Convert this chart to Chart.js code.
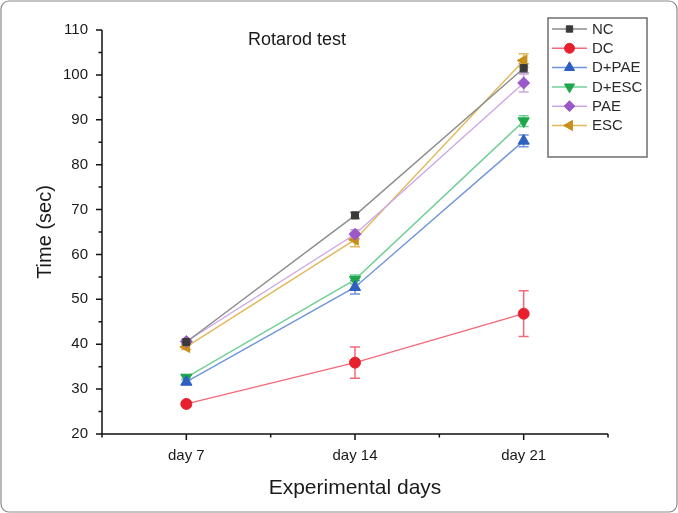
<!DOCTYPE html>
<html>
<head>
<meta charset="utf-8">
<script src="https://cdn.jsdelivr.net/npm/chart.js@4.4.1/dist/chart.umd.min.js"></script>
<style>
html,body{margin:0;padding:0;background:#fff;}
#wrap{position:relative;width:678px;height:513px;}
</style>
</head>
<body>
<div id="wrap"><canvas id="c" width="678" height="513"></canvas></div>
<script>
const categories = ['day 7', 'day 14', 'day 21'];
const seriesNames = ['NC', 'DC', 'D+PAE', 'D+ESC', 'PAE', 'ESC'];
const NC     = [40.5, 68.7, 101.5];
const NC_err = [0.5, 0.7, 1.0];
const DC     = [26.7, 35.9, 46.8];
const DC_err = [0.5, 3.5, 5.1];
const DPAE     = [31.6, 52.7, 85.3];
const DPAE_err = [0.6, 1.5, 1.3];
const DESC     = [32.6, 54.4, 89.7];
const DESC_err = [0.5, 1.0, 1.2];
const PAE     = [40.6, 64.5, 98.2];
const PAE_err = [0.5, 1.0, 2.0];
const ESC     = [39.4, 63.3, 103.2];
const ESC_err = [0.6, 1.6, 1.5];
const yTicks = [20, 30, 40, 50, 60, 70, 80, 90, 100, 110];

const styles = [
  {line:'#8c8c8c', mark:'#3a3a3a', ps:'rect', rot:0, r:5},
  {line:'#f26a78', mark:'#e8202e', ps:'circle', rot:0, r:5.5},
  {line:'#6f95dc', mark:'#2f5fc0', ps:'triangle', rot:0, r:6.5},
  {line:'#72cf98', mark:'#1fa64d', ps:'triangle', rot:180, r:6.5},
  {line:'#cda6e4', mark:'#9b59c8', ps:'rectRot', rot:0, r:6},
  {line:'#e2b85a', mark:'#c8901a', ps:'triangle', rot:-90, r:6.5}
];
const values = [NC, DC, DPAE, DESC, PAE, ESC];
const errors = [NC_err, DC_err, DPAE_err, DESC_err, PAE_err, ESC_err];

const datasets = values.map((v, i) => ({
  label: seriesNames[i],
  data: v,
  errs: errors[i],
  borderColor: styles[i].line,
  backgroundColor: styles[i].mark,
  pointBackgroundColor: styles[i].mark,
  pointBorderColor: styles[i].mark,
  pointBorderWidth: 1,
  pointStyle: styles[i].ps,
  pointRotation: styles[i].rot,
  pointRadius: styles[i].r,
  borderWidth: 1.4,
  tension: 0,
  fill: false
}));

const AXW = 102, AXH = 79;
const FONT = '"Liberation Sans", Arial, sans-serif';

const deco = {
  id: 'deco',
  beforeDatasetsDraw(chart) {
    const ctx = chart.ctx;
    const x = chart.scales.x, y = chart.scales.y;
    chart.data.datasets.forEach((ds, i) => {
      ctx.save();
      ctx.strokeStyle = ds.borderColor;
      ctx.lineWidth = 1.5;
      ds.data.forEach((v, j) => {
        const px = x.getPixelForValue(j);
        const e = ds.errs[j];
        const t = y.getPixelForValue(v + e), b = y.getPixelForValue(v - e);
        ctx.beginPath();
        ctx.moveTo(px, t); ctx.lineTo(px, b);
        ctx.moveTo(px - 5, t); ctx.lineTo(px + 5, t);
        ctx.moveTo(px - 5, b); ctx.lineTo(px + 5, b);
        ctx.stroke();
      });
      ctx.restore();
    });
  },
  afterDraw(chart) {
    const ctx = chart.ctx;
    const x = chart.scales.x, y = chart.scales.y;
    const L = x.left, R = x.right, T = y.top, B = y.bottom;
    ctx.save();
    ctx.strokeStyle = '#111';
    ctx.lineWidth = 1.5;
    ctx.beginPath();
    ctx.moveTo(L, T); ctx.lineTo(L, B); ctx.lineTo(R, B);
    for (let v = 20; v <= 110; v += 5) {
      const py = y.getPixelForValue(v);
      const len = (v % 10 === 0) ? 6 : 3.5;
      ctx.moveTo(L, py); ctx.lineTo(L - len, py);
    }
    for (let k = -0.5; k <= 2.5; k += 0.5) {
      const px = (k === -0.5) ? L : (k === 2.5 ? R : x.getPixelForValue(k));
      const len = (Number.isInteger(k)) ? 6 : 3.5;
      ctx.moveTo(px, B); ctx.lineTo(px, B + len);
    }
    ctx.stroke();

    ctx.fillStyle = '#1a1a1a';
    ctx.font = '21px ' + FONT;
    ctx.textAlign = 'center';
    ctx.textBaseline = 'middle';
    ctx.fillText('Experimental days', (L + R) / 2, 488);
    ctx.save();
    ctx.translate(45, (T + B) / 2);
    ctx.rotate(-Math.PI / 2);
    ctx.font = '20px ' + FONT;
    ctx.fillText('Time (sec)', 0, 0);
    ctx.restore();
    ctx.font = '18px ' + FONT;
    ctx.fillText('Rotarod test', 297, 40);

    const lx = 548, ly = 18, lw = 99, lh = 139;
    ctx.fillStyle = '#fff';
    ctx.fillRect(lx, ly, lw, lh);
    ctx.strokeStyle = '#6e6e6e';
    ctx.lineWidth = 1.5;
    ctx.strokeRect(lx, ly, lw, lh);
    chart.data.datasets.forEach((ds, i) => {
      const cy = 29 + i * 19.3;
      ctx.strokeStyle = ds.borderColor;
      ctx.lineWidth = 1.5;
      ctx.beginPath(); ctx.moveTo(552, cy); ctx.lineTo(587, cy); ctx.stroke();
      ctx.fillStyle = ds.pointBackgroundColor;
      ctx.strokeStyle = ds.pointBorderColor;
      ctx.lineWidth = 1;
      Chart.helpers.drawPoint(ctx, {pointStyle: ds.pointStyle, rotation: ds.pointRotation, radius: ds.pointRadius * 0.9, borderWidth: 1}, 569.5, cy);
      ctx.fillStyle = '#2a2a2a';
      ctx.font = '15px ' + FONT;
      ctx.textAlign = 'left';
      ctx.textBaseline = 'middle';
      ctx.fillText(ds.label, 592, cy + 0.5);
    });

    ctx.strokeStyle = '#8a8a8a';
    ctx.lineWidth = 1.2;
    ctx.beginPath();
    ctx.roundRect(1, 1, 676, 511, 8);
    ctx.stroke();
    ctx.restore();
  }
};

new Chart(document.getElementById('c'), {
  type: 'line',
  data: { labels: categories, datasets },
  options: {
    responsive: false,
    animation: false,
    devicePixelRatio: 1,
    layout: { padding: { top: 30, right: 70, left: 0, bottom: 0 } },
    plugins: { legend: { display: false }, title: { display: false }, tooltip: { enabled: false } },
    scales: {
      x: {
        type: 'category',
        offset: true,
        grid: { display: true, drawOnChartArea: false, drawTicks: true, tickLength: 6, tickColor: 'rgba(0,0,0,0)' },
        border: { display: false },
        ticks: { color: '#1a1a1a', font: { size: 15, family: FONT }, padding: 7, maxRotation: 0 },
        afterFit(s) { s.height = AXH; }
      },
      y: {
        min: 20, max: 110,
        afterBuildTicks(s) { s.ticks = yTicks.map(v => ({ value: v })); },
        grid: { display: true, drawOnChartArea: false, drawTicks: true, tickLength: 6, tickColor: 'rgba(0,0,0,0)' },
        border: { display: false },
        ticks: { color: '#1a1a1a', font: { size: 15, family: FONT }, padding: 8 },
        afterFit(s) { s.width = AXW; }
      }
    }
  },
  plugins: [deco]
});
</script>
</body>
</html>
